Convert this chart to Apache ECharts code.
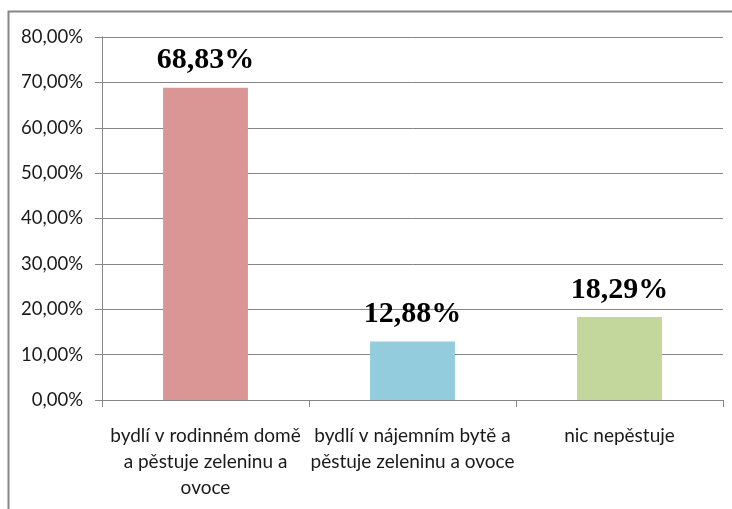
<!DOCTYPE html>
<html>
<head>
<meta charset="utf-8">
<script src="https://cdn.jsdelivr.net/npm/echarts@6/dist/echarts.min.js"></script>
<style>
  html, body { margin: 0; padding: 0; background: #fff; }
</style>
</head>
<body>
<div id="main" style="width: 732px; height: 509px"></div>
<script>
// data
var categories = ['bydlí v rodinném domě\na pěstuje zeleninu a\novoce', 'bydlí v nájemním bytě a\npěstuje zeleninu a ovoce', 'nic nepěstuje']
var values = [68.83, 12.88, 18.29]
var barColors = ['#D99694', '#93CDDD', '#C3D69B']

function fmt(v) {
  return v.toFixed(2).replace('.', ',') + '%'
}

var myChart = echarts.init(document.getElementById('main'))
var option = {
  animation: false,
  graphic: [
    {
      type: 'rect',
      shape: { x: 8.5, y: 11.5, width: 740, height: 520 },
      style: { fill: 'none', stroke: '#868686', lineWidth: 2 }
    }
  ],
  grid: {
    left: 102,
    right: 9,
    top: 37,
    bottom: 109,
    containLabel: false
  },
  xAxis: {
    type: 'category',
    data: categories,
    axisLine: { lineStyle: { color: '#868686', width: 1 } },
    axisTick: { show: true, length: 7, alignWithLabel: false, lineStyle: { color: '#868686' } },
    axisLabel: {
      interval: 0,
      margin: 23,
      color: '#1a1a1a',
      fontFamily: 'Lato',
      fontSize: 19,
      lineHeight: 26
    }
  },
  yAxis: {
    type: 'value',
    min: 0,
    max: 80,
    interval: 10,
    axisLine: { show: true, lineStyle: { color: '#868686' } },
    axisTick: { show: true, length: 7, lineStyle: { color: '#868686' } },
    splitLine: { lineStyle: { color: '#868686', width: 1 } },
    axisLabel: {
      margin: 19,
      color: '#1a1a1a',
      fontFamily: 'Lato',
      fontSize: 18.5,
      formatter: function (v) { return fmt(v) }
    }
  },
  series: [
    {
      type: 'bar',
      barWidth: '41%',
      data: values.map(function (v, i) {
        return { value: v, itemStyle: { color: barColors[i] } }
      }),
      label: {
        show: true,
        position: 'top',
        distance: 12,
        color: '#000',
        fontFamily: 'Liberation Serif',
        fontWeight: 'bold',
        fontSize: 30,
        formatter: function (p) { return fmt(p.value) }
      }
    }
  ]
}
myChart.setOption(option)
</script>
</body>
</html>
